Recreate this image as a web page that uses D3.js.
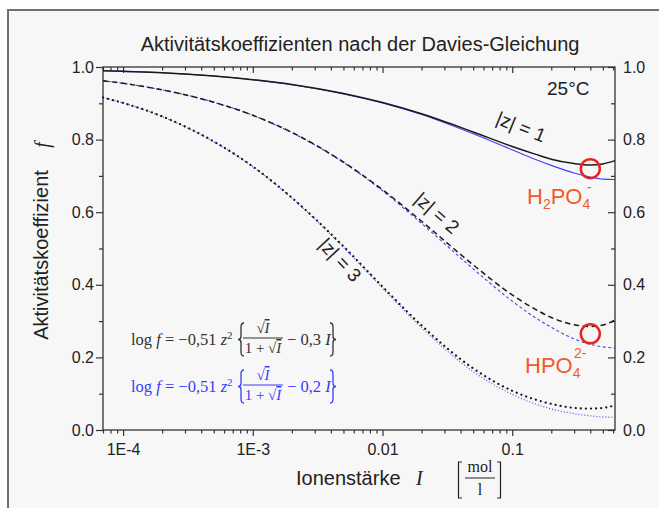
<!doctype html>
<html>
<head>
<script src="https://d3js.org/d3.v7.min.js"></script>
<style>
  body { margin: 0; background: #fff; }
  text { font-family: "Liberation Sans", Arial, sans-serif; fill: #222; }
  .serif { font-family: "Liberation Serif", "Times New Roman", serif; }
</style>
</head>
<body>
<svg width="659" height="508"></svg>
<script>
// ionic strength I (mol/l) and activity coefficients f
var ionic   = [7e-5, 1e-4, 2e-4, 5e-4, 1e-3, 2e-3, 5e-3, 0.01, 0.02, 0.05, 0.1, 0.15, 0.2, 0.3, 0.4, 0.5, 0.62];
// Davies with 0.3 I (black)
var z1Black = [0.990, 0.988, 0.984, 0.975, 0.965, 0.952, 0.927, 0.902, 0.871, 0.821, 0.781, 0.760, 0.746, 0.734, 0.730, 0.733, 0.742];
var z2Black = [0.962, 0.955, 0.937, 0.903, 0.867, 0.820, 0.738, 0.662, 0.575, 0.455, 0.372, 0.333, 0.310, 0.290, 0.285, 0.289, 0.303];
var z3Black = [0.916, 0.901, 0.864, 0.795, 0.726, 0.640, 0.506, 0.395, 0.288, 0.170, 0.108, 0.084, 0.072, 0.061, 0.059, 0.061, 0.068];
// Davies with 0.2 I (blue)
var z1Blue  = [0.990, 0.988, 0.984, 0.975, 0.965, 0.951, 0.926, 0.901, 0.869, 0.816, 0.772, 0.746, 0.729, 0.708, 0.697, 0.691, 0.690];
var z2Blue  = [0.962, 0.955, 0.937, 0.903, 0.867, 0.819, 0.737, 0.659, 0.569, 0.444, 0.355, 0.310, 0.283, 0.251, 0.236, 0.229, 0.226];
var z3Blue  = [0.916, 0.901, 0.863, 0.794, 0.725, 0.639, 0.503, 0.391, 0.282, 0.161, 0.098, 0.072, 0.058, 0.045, 0.039, 0.036, 0.035];

var xMajor = [1e-4, 1e-3, 1e-2, 1e-1];
var xLabels = ["1E-4", "1E-3", "0.01", "0.1"];
var yMajor = [0, 0.2, 0.4, 0.6, 0.8, 1.0];
var yMinor = [0.1, 0.3, 0.5, 0.7, 0.9];

// marked points (H2PO4-, HPO4 2-)
var markI = [0.4, 0.4];
var markF = [0.72, 0.265];

var svg = d3.select("svg");
var pLeft = 103, pRight = 615, pTop = 67, pBottom = 430;

var x = d3.scaleLog().domain([7e-5, 0.62]).range([pLeft, pRight]);
var y = d3.scaleLinear().domain([0, 1]).range([pBottom, pTop]);
var xMinor = x.ticks().filter(function(d) { return xMajor.indexOf(d) < 0; });

// background frame
svg.append("rect").attr("x", 8).attr("y", 10).attr("width", 700).attr("height", 600)
   .attr("fill", "#f7f7f7").attr("stroke", "#707070").attr("stroke-width", 2);

svg.append("text").attr("x", 360).attr("y", 51).attr("text-anchor", "middle")
   .style("font-size", "20px").text("Aktivitätskoeffizienten nach der Davies-Gleichung");

function styleAxis(g) {
  g.select(".domain").remove();
  g.selectAll("line").attr("stroke", "#333").attr("stroke-width", 1.2);
  g.selectAll("text").style("font-size", "16px").attr("fill", "#333");
}

// bottom
svg.append("g").attr("transform", "translate(0," + pBottom + ")")
   .call(d3.axisBottom(x).tickValues(xMajor).tickFormat(function(d, i) { return xLabels[i]; })
         .tickSize(6).tickPadding(8)).call(styleAxis);
svg.append("g").attr("transform", "translate(0," + pBottom + ")")
   .call(d3.axisBottom(x).tickValues(xMinor).tickFormat("").tickSize(3.5)).call(styleAxis);
// top (ticks inward)
svg.append("g").attr("transform", "translate(0," + pTop + ")")
   .call(d3.axisBottom(x).tickValues(xMajor).tickFormat("").tickSize(6)).call(styleAxis);
svg.append("g").attr("transform", "translate(0," + pTop + ")")
   .call(d3.axisBottom(x).tickValues(xMinor).tickFormat("").tickSize(3.5)).call(styleAxis);
// left
svg.append("g").attr("transform", "translate(" + pLeft + ",0)")
   .call(d3.axisLeft(y).tickValues(yMajor).tickFormat(d3.format(".1f")).tickSize(7).tickPadding(2))
   .call(styleAxis);
svg.append("g").attr("transform", "translate(" + pLeft + ",0)")
   .call(d3.axisLeft(y).tickValues(yMinor).tickFormat("").tickSize(4)).call(styleAxis);
// right (ticks inward, labels outside)
svg.append("g").attr("transform", "translate(" + pRight + ",0)")
   .call(d3.axisLeft(y).tickValues(yMajor).tickFormat("").tickSize(7)).call(styleAxis);
svg.append("g").attr("transform", "translate(" + pRight + ",0)")
   .call(d3.axisLeft(y).tickValues(yMinor).tickFormat("").tickSize(4)).call(styleAxis);
svg.append("g").attr("transform", "translate(" + pRight + ",0)")
   .call(d3.axisRight(y).tickValues(yMajor).tickFormat(d3.format(".1f")).tickSize(0).tickPadding(8))
   .call(styleAxis);

svg.append("rect").attr("x", pLeft).attr("y", pTop).attr("width", pRight - pLeft).attr("height", pBottom - pTop)
   .attr("fill", "none").attr("stroke", "#333").attr("stroke-width", 1.3);

// curves
var line = d3.line().x(function(d) { return x(d[0]); }).y(function(d) { return y(d[1]); })
             .curve(d3.curveMonotoneX);
function curve(vals, color, width, dash, cap) {
  svg.append("path").datum(ionic.map(function(I, i) { return [I, vals[i]]; }))
     .attr("d", line).attr("fill", "none").attr("stroke", color).attr("stroke-width", width)
     .attr("stroke-dasharray", dash).attr("stroke-linecap", cap || "butt");
}
var blue = "#4040f5", black = "#1a1a1a";
curve(z1Blue, blue, 1.1, null);
curve(z2Blue, blue, 1.1, "3,2.5");
curve(z3Blue, blue, 1.1, "1,2");
curve(z1Black, black, 1.5, null);
curve(z2Black, black, 1.5, "5.5,3.5");
curve(z3Black, black, 2.2, "0.1,5", "round");

// curve labels
[["|z| = 1", 521, 127, 22], ["|z| = 2", 437, 213, 41], ["|z| = 3", 340, 260, 47]].forEach(function(l) {
  svg.append("text").attr("transform", "translate(" + l[1] + "," + l[2] + ") rotate(" + l[3] + ")")
     .attr("text-anchor", "middle").attr("dominant-baseline", "central")
     .style("font-size", "19px").text(l[0]);
});

svg.append("text").attr("x", 547).attr("y", 95).style("font-size", "19px").text("25°C");

// formulas
function brace(x0, y1, y2, s, color) {
  var ym = (y1 + y2) / 2;
  var p = "M" + (x0 + 6 * s) + "," + y1 + " Q" + (x0 + 3 * s) + "," + y1 + " " + (x0 + 3 * s) + "," + (y1 + 4) +
          " L" + (x0 + 3 * s) + "," + (ym - 3) + " Q" + (x0 + 3 * s) + "," + ym + " " + x0 + "," + ym +
          " Q" + (x0 + 3 * s) + "," + ym + " " + (x0 + 3 * s) + "," + (ym + 3) +
          " L" + (x0 + 3 * s) + "," + (y2 - 4) + " Q" + (x0 + 3 * s) + "," + y2 + " " + (x0 + 6 * s) + "," + y2;
  svg.append("path").attr("d", p).attr("fill", "none").attr("stroke", color).attr("stroke-width", 1.3);
}
function formula(yb, color, coef) {
  var t = svg.append("text").attr("class", "serif").attr("x", 131).attr("y", yb)
             .style("font-size", "16.5px").style("fill", color);
  t.append("tspan").text("log ");
  t.append("tspan").style("font-style", "italic").text("f");
  t.append("tspan").text(" = \u22120,51 ");
  t.append("tspan").style("font-style", "italic").text("z");
  t.append("tspan").attr("dy", -6).style("font-size", "11px").text("2");
  brace(238, yb - 22, yb + 11, 1, color);
  var n = svg.append("text").attr("class", "serif").attr("x", 263).attr("y", yb - 12)
             .attr("text-anchor", "middle").style("font-size", "15px").style("fill", color);
  n.append("tspan").text("\u221A");
  n.append("tspan").style("font-style", "italic").style("text-decoration", "overline").text("I");
  svg.append("line").attr("x1", 243).attr("x2", 283).attr("y1", yb - 7).attr("y2", yb - 7)
     .attr("stroke", color).attr("stroke-width", 1);
  var d = svg.append("text").attr("class", "serif").attr("x", 263).attr("y", yb + 8)
             .attr("text-anchor", "middle").style("font-size", "15px").style("fill", color);
  d.append("tspan").text("1 + \u221A");
  d.append("tspan").style("font-style", "italic").style("text-decoration", "overline").text("I");
  var r = svg.append("text").attr("class", "serif").attr("x", 287).attr("y", yb)
             .style("font-size", "16.5px").style("fill", color);
  r.append("tspan").text("\u2212 " + coef + " ");
  r.append("tspan").style("font-style", "italic").text("I");
  brace(336, yb - 22, yb + 11, -1, color);
}
formula(345, "#333", "0,3");
formula(392, "#3b3bff", "0,2");

// axis titles
svg.append("text").attr("transform", "translate(48,255) rotate(-90)").attr("text-anchor", "middle")
   .style("font-size", "20px").text("Aktivitätskoeffizient");
svg.append("text").attr("class", "serif").attr("transform", "translate(49,145) rotate(-90)")
   .attr("text-anchor", "middle").style("font-size", "20px").style("font-style", "italic").text("f");

svg.append("text").attr("x", 296).attr("y", 485).style("font-size", "20px").text("Ionenstärke");
svg.append("text").attr("class", "serif").attr("x", 416).attr("y", 485)
   .style("font-size", "20px").style("font-style", "italic").text("I");
svg.append("path").attr("d", "M462,462 L458.5,462 L458.5,498 L462,498 M497,462 L500.5,462 L500.5,498 L497,498")
   .attr("fill", "none").attr("stroke", "#222").attr("stroke-width", 1.2);
svg.append("text").attr("class", "serif").attr("x", 480).attr("y", 472).attr("text-anchor", "middle")
   .style("font-size", "16px").text("mol");
svg.append("line").attr("x1", 465).attr("x2", 495).attr("y1", 478).attr("y2", 478)
   .attr("stroke", "#222").attr("stroke-width", 1);
svg.append("text").attr("class", "serif").attr("x", 480).attr("y", 495).attr("text-anchor", "middle")
   .style("font-size", "16px").text("l");

// marked species
var red = "#e8231f", orange = "#f15a2b";
markI.forEach(function(I, i) {
  svg.append("circle").attr("cx", x(I)).attr("cy", y(markF[i])).attr("r", 9.5)
     .attr("fill", "none").attr("stroke", red).attr("stroke-width", 2.5);
});
var h2 = svg.append("text").attr("x", 527).attr("y", 204).style("font-size", "22px").style("fill", orange);
h2.append("tspan").text("H");
h2.append("tspan").attr("dy", 5).style("font-size", "14px").text("2");
h2.append("tspan").attr("dy", -5).text("PO");
h2.append("tspan").attr("dy", 5).style("font-size", "14px").text("4");
h2.append("tspan").attr("x", 587).attr("dy", -17).style("font-size", "14px").text("-");
var hp = svg.append("text").attr("x", 525).attr("y", 373).style("font-size", "22px").style("fill", orange);
hp.append("tspan").text("HPO");
hp.append("tspan").attr("dy", 5).style("font-size", "14px").text("4");
hp.append("tspan").attr("x", 574).attr("dy", -20).style("font-size", "14px").text("2-");
</script>
</body>
</html>
